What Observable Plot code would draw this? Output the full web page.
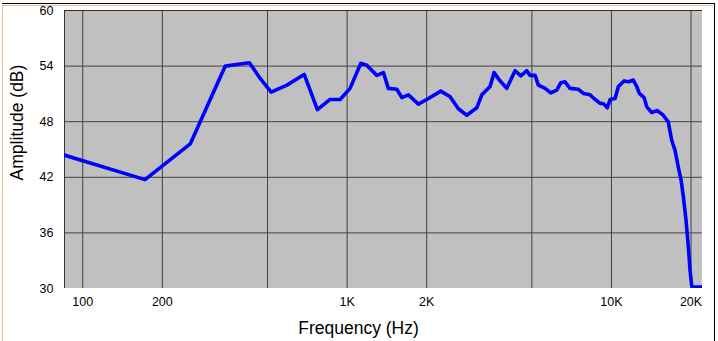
<!DOCTYPE html>
<html>
<head>
<meta charset="utf-8">
<script src="https://cdn.jsdelivr.net/npm/d3@7"></script>
<script src="https://cdn.jsdelivr.net/npm/@observablehq/plot@0.6"></script>
<style>
  body { margin: 0; background: #fff; }
  #wrap { position: relative; width: 718px; height: 341px; overflow: hidden; background: #fff; }
  #wrap svg { position: absolute; left: 0; top: 0; }
  .b1 { position: absolute; left: 2px; top: 3px; width: 712px; height: 360px; border-top: 1px solid #000; border-right: 1px solid #000; }
  .b2 { position: absolute; left: 2px; top: 5px; width: 710px; height: 360px; border-top: 1px solid #e3bf98; border-left: 1px solid #e3bf98; }
</style>
</head>
<body>
<div id="wrap"><div class="b1"></div><div class="b2"></div></div>
<script>
// Frequency response (Hz) and amplitude (dB)
const freqs = [85, 172, 255, 346, 388, 427, 469, 516, 592, 688, 772, 862, 941, 1026, 1127, 1187, 1295, 1372, 1432, 1542, 1611, 1706, 1861, 2001, 2262, 2453, 2636, 2836, 3094, 3232, 3475, 3598, 3767, 4018, 4319, 4540, 4783, 4920, 5140, 5290, 5611, 5893, 6210, 6430, 6675, 6970, 7497, 7830, 8300, 8670, 9060, 9310, 9650, 9880, 10320, 10620, 11160, 11590, 12100, 12460, 12750, 13290, 13600, 14200, 14920, 15700, 16400, 16900, 17400, 17900, 18340, 18710, 19150, 19540, 19830, 20120, 20200, 22100];
const amps  = [44.4, 41.75, 45.6, 54.0, 54.2, 54.36, 52.67, 51.2, 51.95, 53.1, 49.3, 50.4, 50.4, 51.6, 54.3, 54.1, 53.0, 53.3, 51.6, 51.5, 50.6, 50.9, 49.9, 50.4, 51.3, 50.7, 49.4, 48.7, 49.5, 50.9, 51.8, 53.3, 52.5, 51.6, 53.5, 52.95, 53.5, 53.0, 53.0, 51.95, 51.6, 51.1, 51.4, 52.2, 52.3, 51.6, 51.5, 51.05, 50.9, 50.4, 49.97, 49.97, 49.5, 50.4, 50.5, 51.8, 52.4, 52.3, 52.5, 51.8, 51.05, 50.6, 49.6, 49.0, 49.2, 48.7, 47.98, 46.0, 44.9, 43.1, 41.7, 39.9, 37.35, 34.47, 31.95, 30.3, 30.15, 30.15];
const xTicks = [100, 200, 500, 1000, 2000, 5000, 10000, 20000];
const xTickLabels = ["100", "200", "500", "1K", "2K", "5K", "10K", "20K"];
const yTicks = [30, 36, 42, 48, 54, 60];
const xTitle = "Frequency (Hz)";
const yTitle = "Amplitude (dB)";

const data = freqs.map((f, i) => ({f, a: amps[i]}));
const xDomain = [85.3, 22100];
const yDomain = [30, 60];

const chart = Plot.plot({
  width: 718,
  height: 341,
  marginLeft: 64,
  marginRight: 16,
  marginTop: 10,
  marginBottom: 53,
  style: {fontFamily: "'Liberation Sans', Arial, sans-serif", fontSize: "12.5px", background: "transparent", color: "#000", overflow: "visible"},
  x: {type: "log", domain: xDomain},
  y: {domain: yDomain},
  marks: [
    Plot.frame({fill: "#C0C0C0", stroke: null}),
    Plot.gridX(xTicks, {stroke: "#404040", strokeOpacity: 1}),
    Plot.gridY(yTicks, {stroke: "#404040", strokeOpacity: 1}),
    Plot.ruleY([yDomain[0]], {stroke: "#ffffff", strokeWidth: 1.2}),
    Plot.ruleX([xDomain[1]], {stroke: "#ffffff", strokeWidth: 1.2}),
    Plot.ruleY([yDomain[1]], {stroke: "#333333"}),
    Plot.ruleX([xDomain[0]], {stroke: "#333333"}),
    Plot.line(data, {x: "f", y: "a", stroke: "#0000FF", strokeWidth: 3.6, strokeLinejoin: "round", clip: true}),
    Plot.axisX(xTicks, {tickSize: 0, tickPadding: 9, tickFormat: (d) => xTickLabels[xTicks.indexOf(d)], label: null}),
    Plot.axisY(yTicks, {tickSize: 0, tickPadding: 11, label: null}),
    Plot.text([xTitle], {frameAnchor: "bottom", textAnchor: "middle", lineAnchor: "bottom", dx: -25, dy: 45, fontSize: 17.5, fill: "#000"}),
    Plot.text([yTitle], {frameAnchor: "left", textAnchor: "middle", lineAnchor: "middle", rotate: -90, dx: -47, dy: -27, fontSize: 17.5, fill: "#000"})
  ]
});
document.getElementById("wrap").appendChild(chart);
</script>
</body>
</html>
